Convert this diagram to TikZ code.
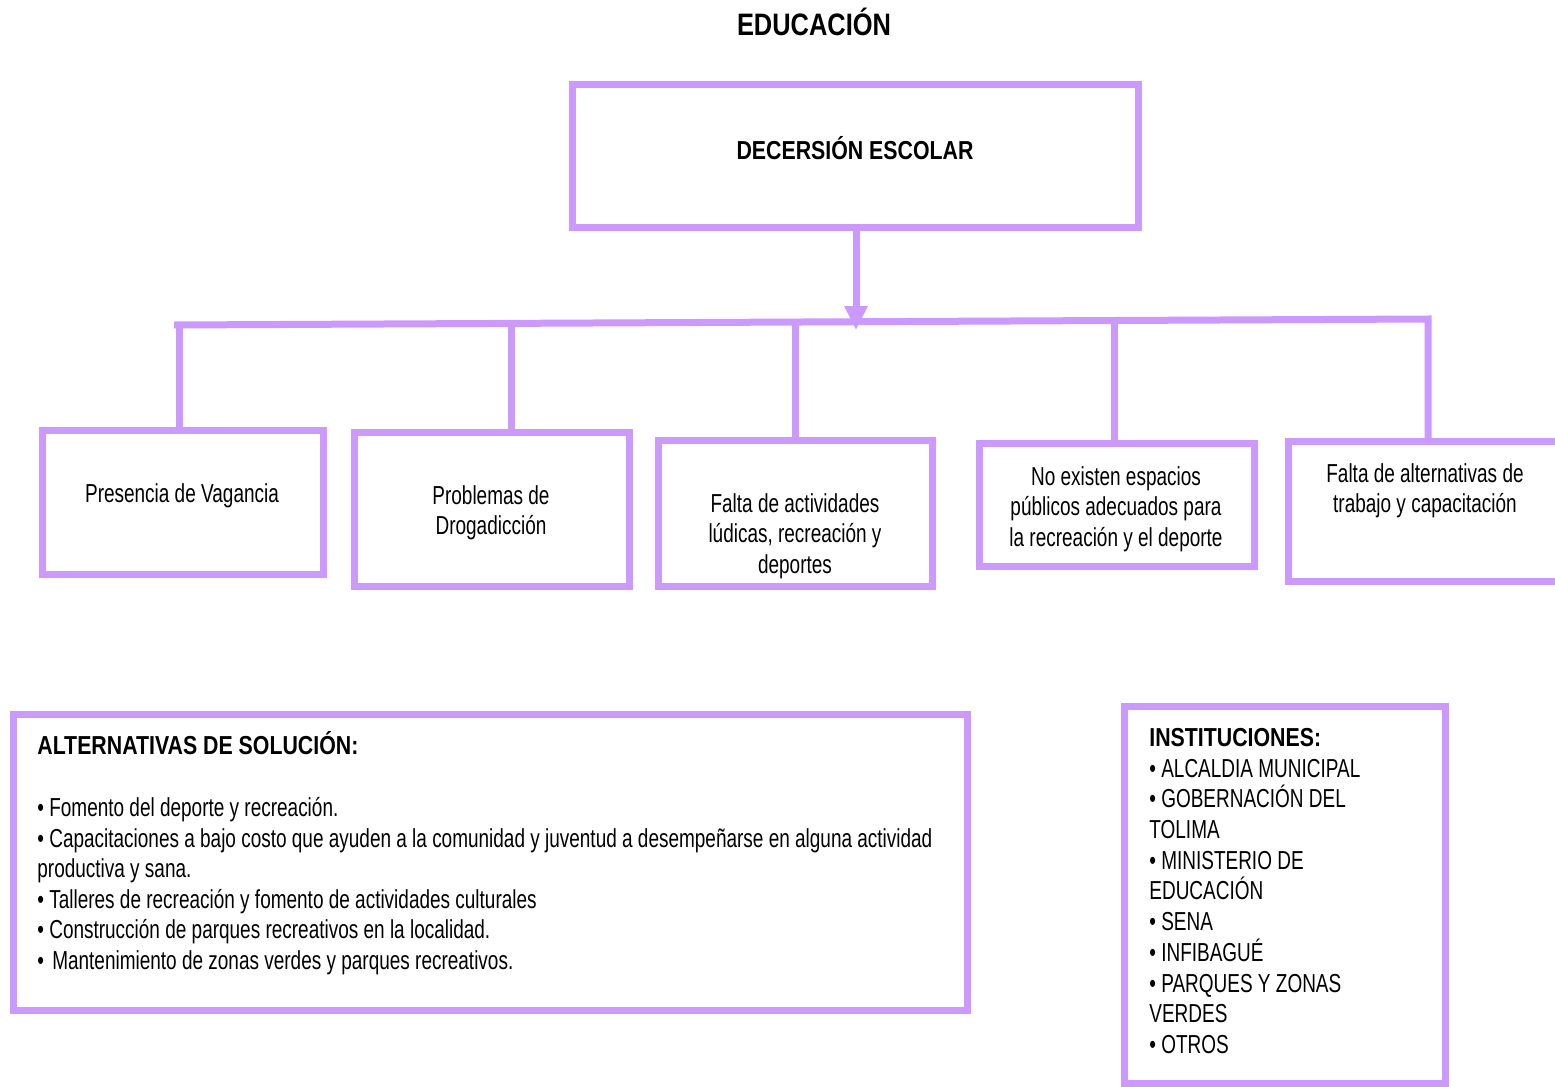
\documentclass[tikz,border=0pt]{standalone}
\usepackage{fontspec}
\setmainfont{Liberation Sans}[FakeStretch=0.73]
\newfontfamily\boldnarrow{Liberation Sans}[FakeStretch=0.82]
\usetikzlibrary{arrows.meta}
\definecolor{lila}{HTML}{CC99FF}
\begin{document}
\begin{tikzpicture}[x=0.5pt,y=-0.5pt,
  box/.style={draw=lila,line width=3.5pt,inner sep=0pt,outer sep=0pt,rectangle},
  conn/.style={draw=lila,line width=3.5pt},
  txt/.style={align=center,inner sep=0pt,font=\fontsize{13}{15.25}\selectfont},
  ltxt/.style={anchor=base west,inner sep=0pt,font=\fontsize{13}{15.25}\selectfont},
  btxt/.style={inner sep=0pt,font=\boldnarrow\bfseries\fontsize{13}{15.25}\selectfont}]
\useasboundingbox (0,0) rectangle (1555,1087);
\clip (0,0) rectangle (1555,1087);
% title
\node[btxt,font=\boldnarrow\bfseries\fontsize{15.5}{18}\selectfont] (title) at (814,22) {EDUCACIÓN};
% top box
\node[box,minimum width=283pt,minimum height=71.5pt] (top) at (855,155.5) {};
\node[btxt] (dec) at (855,148) {DECERSIÓN ESCOLAR};
% child boxes
\node[box,minimum width=140.5pt,minimum height=72pt] (b1) at (182.5,502) {};
\node[box,minimum width=137.5pt,minimum height=77pt] (b2) at (491.5,509) {};
\node[box,minimum width=137pt,minimum height=73pt] (b3) at (795,513) {};
\node[box,minimum width=137.5pt,minimum height=61.5pt] (b4) at (1116.5,504.5) {};
\node[box,minimum width=137pt,minimum height=70pt] (b5) at (1425,511) {};
\node[txt] (t1) at (182,496) {Presencia de Vagancia};
\node[txt] (t2) at (491,513) {Problemas de\\Drogadicción};
\node[txt] (t3) at (795,536) {Falta de actividades\\lúdicas, recreación y\\deportes};
\node[txt] (t4) at (1116,509) {No existen espacios\\públicos adecuados para\\la recreación y el deporte};
\node[txt] (t5) at (1425,491) {Falta de alternativas de\\trabajo y capacitación};
% connectors
\coordinate (tip) at (856,330);
\coordinate (L) at (174,325);
\coordinate (R) at (1428,319);
\coordinate (J1) at (179.5,325);
\coordinate (J2) at (511,323.4);
\coordinate (J3) at (795,322);
\coordinate (J4) at (1114,320.5);
\draw[conn,-{Triangle[width=11pt,length=12pt]}] (tip |- top.south) -- (tip);
\draw[conn,line join=miter] (L) -- (R) -- (R |- b5.north);
\draw[conn] (J1) -- (J1 |- b1.north);
\draw[conn] (J2) -- (J2 |- b2.north);
\draw[conn] (J3) -- (J3 |- b3.north);
\draw[conn] (J4) -- (J4 |- b4.north);
% alternatives box
\node[box,minimum width=477pt,minimum height=148pt] (alt) at (490,862) {};
\node[btxt,anchor=base west] (a0) at (37,754) {ALTERNATIVAS DE SOLUCIÓN:};
\node[ltxt] (a1) at (37,816) {• Fomento del deporte y recreación.};
\node[ltxt] (a2) at (37,847) {• Capacitaciones a bajo costo que ayuden a la comunidad y juventud a desempeñarse en alguna actividad};
\node[ltxt] (a3) at (37,877) {productiva y sana.};
\node[ltxt] (a4) at (37,908) {• Talleres de recreación y fomento de actividades culturales};
\node[ltxt] (a5) at (37,938) {• Construcción de parques recreativos en la localidad.};
\node[ltxt] (a6) at (37,969) {• \kern1.5pt Mantenimiento de zonas verdes y parques recreativos.};
% institutions box
\node[box,minimum width=160.5pt,minimum height=188.5pt] (inst) at (1284.5,894.5) {};
\node[btxt,anchor=base west] (i0) at (1149,746) {INSTITUCIONES:};
\node[ltxt] (i1) at (1149,777) {• ALCALDIA MUNICIPAL};
\node[ltxt] (i2) at (1149,807) {• GOBERNACIÓN DEL};
\node[ltxt] (i3) at (1149,838) {TOLIMA};
\node[ltxt] (i4) at (1149,869) {• MINISTERIO DE};
\node[ltxt] (i5) at (1149,899) {EDUCACIÓN};
\node[ltxt] (i6) at (1149,930) {• SENA};
\node[ltxt] (i7) at (1149,961) {• INFIBAGUÉ};
\node[ltxt] (i8) at (1149,992) {• PARQUES Y ZONAS};
\node[ltxt] (i9) at (1149,1022) {VERDES};
\node[ltxt] (i10) at (1149,1053) {• OTROS};
\end{tikzpicture}
\end{document}
